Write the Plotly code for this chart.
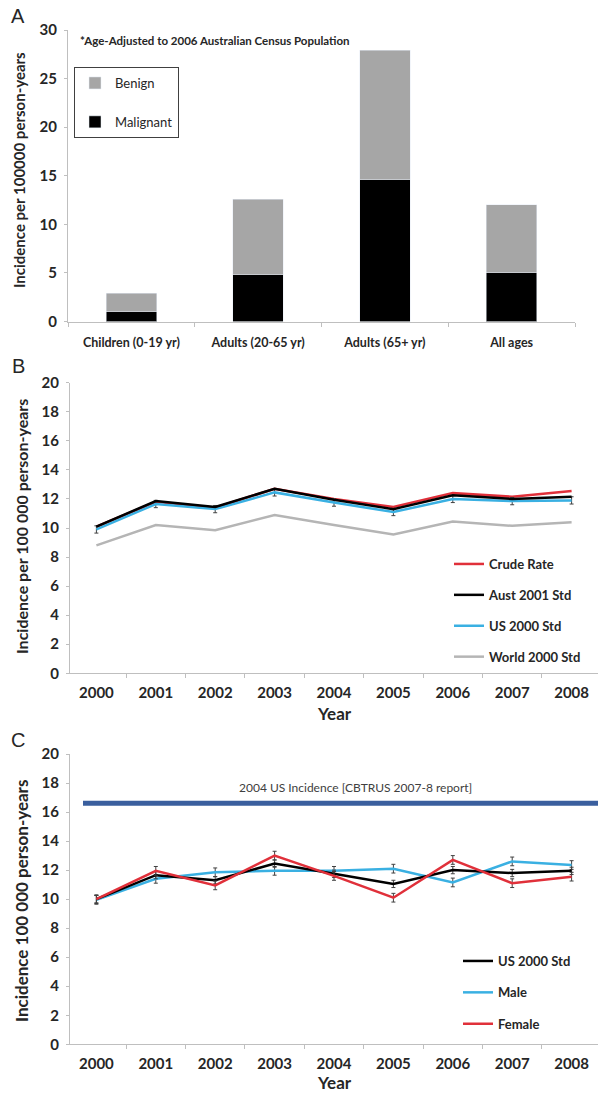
import plotly.graph_objects as go

# ---------------- Data ----------------
AGE_GROUPS = ["Children (0-19 yr)", "Adults (20-65 yr)", "Adults (65+ yr)", "All ages"]
MALIGNANT = [1.0, 4.8, 14.6, 5.0]
BENIGN = [1.9, 7.8, 13.3, 7.0]

YEARS = ["2000", "2001", "2002", "2003", "2004", "2005", "2006", "2007", "2008"]
CRUDE_RATE = [10.1, 11.8, 11.4, 12.7, 12.0, 11.45, 12.4, 12.15, 12.55]
AUST_2001 = [10.1, 11.85, 11.45, 12.7, 11.95, 11.3, 12.25, 12.0, 12.15]
US_2000_B = [9.9, 11.65, 11.3, 12.45, 11.75, 11.1, 12.0, 11.85, 11.9]
US_2000_B_ERR = [0.25, 0.25, 0.25, 0.25, 0.25, 0.25, 0.25, 0.25, 0.25]
WORLD_2000 = [8.8, 10.2, 9.85, 10.9, 10.2, 9.55, 10.45, 10.15, 10.4]

US_2000_C = [10.0, 11.65, 11.3, 12.45, 11.75, 11.05, 12.0, 11.8, 11.95]
US_2000_C_ERR = [0.25, 0.25, 0.25, 0.25, 0.25, 0.25, 0.25, 0.25, 0.25]
MALE = [9.95, 11.4, 11.85, 11.95, 11.95, 12.1, 11.15, 12.6, 12.35]
MALE_ERR = [0.3, 0.3, 0.3, 0.3, 0.3, 0.3, 0.3, 0.3, 0.3]
FEMALE = [10.0, 11.95, 10.95, 13.0, 11.6, 10.1, 12.7, 11.1, 11.55]
FEMALE_ERR = [0.3, 0.3, 0.3, 0.3, 0.3, 0.3, 0.3, 0.3, 0.3]
US_2004_INCIDENCE = 16.6

# ---------------- Style ----------------
W, H = 598, 1094
FONT = "Lato"
TXT = "#262626"
AXC = "#bfbfbf"
RED = "#e0303a"
BLUE = "#3ab0e2"
BLACK = "#000000"
GRAY = "#b5b5b5"


def py(p):
    return 1 - p / H


def px(p):
    return p / W


fig = go.Figure()

# Panel A
fig.add_trace(go.Bar(x=AGE_GROUPS, y=MALIGNANT, name="Malignant", marker_color="#000000",
                     xaxis="x", yaxis="y", legend="legend", legendgroup="m", legendrank=2))
fig.add_trace(go.Bar(x=AGE_GROUPS, y=BENIGN, name="Benign", marker_color="#a6a6a6",
                     xaxis="x", yaxis="y", legend="legend", legendgroup="b", legendrank=1))

# Panel B
fig.add_trace(go.Scatter(x=YEARS, y=WORLD_2000, mode="lines", name="World 2000 Std",
                         line=dict(color=GRAY, width=2.5), xaxis="x2", yaxis="y2",
                         legend="legend2", legendgroup="w", legendrank=4))
fig.add_trace(go.Scatter(x=YEARS, y=CRUDE_RATE, mode="lines", name="Crude Rate",
                         line=dict(color=RED, width=2.5), xaxis="x2", yaxis="y2",
                         legend="legend2", legendgroup="c", legendrank=1))
fig.add_trace(go.Scatter(x=YEARS, y=US_2000_B, mode="lines", name="US 2000 Std",
                         line=dict(color=BLUE, width=2.5), xaxis="x2", yaxis="y2",
                         error_y=dict(type="data", array=US_2000_B_ERR, color="#404040",
                                      thickness=1, width=2),
                         legend="legend2", legendgroup="u", legendrank=3))
fig.add_trace(go.Scatter(x=YEARS, y=AUST_2001, mode="lines", name="Aust 2001 Std",
                         line=dict(color=BLACK, width=2.5), xaxis="x2", yaxis="y2",
                         legend="legend2", legendgroup="a", legendrank=2))

# Panel C
errc = dict(type="data", color="#404040", thickness=1, width=2)
fig.add_trace(go.Scatter(x=YEARS, y=MALE, mode="lines", name="Male",
                         line=dict(color=BLUE, width=2.5), xaxis="x3", yaxis="y3",
                         error_y=dict(errc, array=MALE_ERR),
                         legend="legend3", legendgroup="ma", legendrank=2))
fig.add_trace(go.Scatter(x=YEARS, y=US_2000_C, mode="lines", name="US 2000 Std",
                         line=dict(color=BLACK, width=2.5), xaxis="x3", yaxis="y3",
                         error_y=dict(errc, array=US_2000_C_ERR),
                         legend="legend3", legendgroup="us", legendrank=1))
fig.add_trace(go.Scatter(x=YEARS, y=FEMALE, mode="lines", name="Female",
                         line=dict(color=RED, width=2.5), xaxis="x3", yaxis="y3",
                         error_y=dict(errc, array=FEMALE_ERR),
                         legend="legend3", legendgroup="fe", legendrank=3))

fig.add_shape(type="line", xref="x3 domain", yref="y3", x0=13 / 528, x1=1,
              y0=US_2004_INCIDENCE, y1=US_2004_INCIDENCE,
              line=dict(color="#3a5f9e", width=5), layer="below")

tickfont = dict(family=FONT, size=15, color=TXT, weight="bold")


def yax(top, bottom, anchor, rng, dtick):
    return dict(domain=[py(bottom), py(top)], anchor=anchor, range=rng, dtick=dtick,
                ticks="outside", ticklen=3, tickcolor=AXC, showline=True, linecolor=AXC,
                linewidth=1, showgrid=False, zeroline=False, tickfont=tickfont,
                ticklabelstandoff=4, fixedrange=True, automargin=False)


def xax(left, right, anchor, size, standoff):
    return dict(domain=[px(left), px(right)], anchor=anchor, type="category",
                tickson="boundaries", ticks="outside", ticklen=4, tickcolor=AXC,
                showline=True, linecolor=AXC, linewidth=1, showgrid=False,
                tickfont=dict(family=FONT, size=size, color=TXT, weight="bold"),
                ticklabelstandoff=standoff, fixedrange=True, automargin=False)


fig.update_layout(
    width=W, height=H,
    margin=dict(l=0, r=0, t=0, b=0, autoexpand=False),
    paper_bgcolor="white", plot_bgcolor="white",
    barmode="stack", bargap=0.6,
    xaxis=xax(68, 575, "y", 12.5, 9),
    yaxis=yax(30, 321.5, "x", [0, 30], 5),
    xaxis2=xax(70, 598, "y2", 15, 6),
    yaxis2=yax(382.7, 673.3, "x2", [0, 20], 2),
    xaxis3=xax(70, 598, "y3", 15, 6),
    yaxis3=yax(754, 1044.3, "x3", [0, 20], 2),
    legend=dict(x=px(74), y=py(67), xanchor="left", yanchor="top",
                bordercolor="#404040", borderwidth=1, bgcolor="white",
                font=dict(family=FONT, size=13, color=TXT),
                traceorder="grouped", tracegroupgap=19),
    legend2=dict(x=px(449), y=py(549), xanchor="left", yanchor="top",
                 bgcolor="rgba(0,0,0,0)",
                 font=dict(family=FONT, size=13, color=TXT, weight="bold"),
                 traceorder="grouped", tracegroupgap=11),
    legend3=dict(x=px(458), y=py(946), xanchor="left", yanchor="top",
                 bgcolor="rgba(0,0,0,0)",
                 font=dict(family=FONT, size=13, color=TXT, weight="bold"),
                 traceorder="grouped", tracegroupgap=11.5),
    showlegend=True,
)

ann = []
# panel letters
for letter, yy in [("A", 16), ("B", 366), ("C", 740)]:
    ann.append(dict(text=letter, x=px(18), y=py(yy), xref="paper", yref="paper",
                    showarrow=False, xanchor="center", yanchor="middle",
                    font=dict(family="Liberation Sans", size=20, color=TXT)))
# y titles
for text, xx, yy, size in [("Incidence per 100000 person-years", 19, 170, 15),
                           ("Incidence per 100 000 person-years", 21, 527, 16),
                           ("Incidence 100 000 person-years", 21, 901, 17)]:
    ann.append(dict(text=text, x=px(xx), y=py(yy), xref="paper", yref="paper",
                    textangle=-90, showarrow=False, xanchor="center", yanchor="middle",
                    font=dict(family=FONT, size=size, color=TXT, weight="bold")))
# x titles
for yy in [713, 1082]:
    ann.append(dict(text="Year", x=px(334), y=py(yy), xref="paper", yref="paper",
                    showarrow=False, xanchor="center", yanchor="middle",
                    font=dict(family=FONT, size=17, color=TXT, weight="bold")))
ann.append(dict(text="*Age-Adjusted to 2006 Australian Census Population", x=px(78), y=py(40),
                xref="paper", yref="paper", showarrow=False, xanchor="left", yanchor="middle",
                font=dict(family=FONT, size=11.5, color=TXT, weight="bold")))
ann.append(dict(text="2004 US Incidence [CBTRUS 2007-8 report]", x=px(355), y=py(787),
                xref="paper", yref="paper", showarrow=False, xanchor="center", yanchor="middle",
                font=dict(family=FONT, size=12, color="#404040")))
fig.update_layout(annotations=ann)

fig.write_html("out.html", config={"displayModeBar": False},
               post_script="document.body.style.margin='0';document.body.style.overflow='hidden';")
